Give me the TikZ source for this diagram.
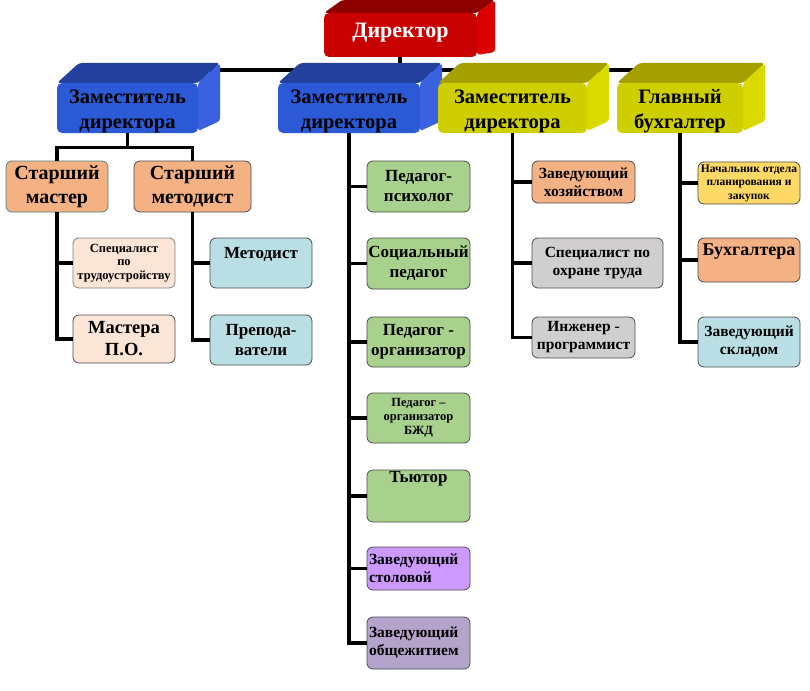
\documentclass[tikz,border=0pt]{standalone}
\usepackage{fontspec}
\setmainfont{Liberation Serif}
\usetikzlibrary{calc,backgrounds}
\definecolor{redF}{HTML}{C80000}
\definecolor{redT}{HTML}{8E0000}
\definecolor{redR}{HTML}{DC0000}
\definecolor{blueF}{HTML}{2C5AD6}
\definecolor{blueT}{HTML}{22409C}
\definecolor{blueR}{HTML}{3A62E0}
\definecolor{yelF}{HTML}{CFCF00}
\definecolor{yelT}{HTML}{A3A000}
\definecolor{yelR}{HTML}{DADA00}
\definecolor{cOrange}{HTML}{F4B183}
\definecolor{cPeach}{HTML}{FBE5D6}
\definecolor{cLBlue}{HTML}{B9DEE3}
\definecolor{cGreen}{HTML}{A9D18E}
\definecolor{cGray}{HTML}{D0CECE}
\definecolor{cPurple}{HTML}{CC99FF}
\definecolor{cLav}{HTML}{B4A4CC}
\definecolor{cYel}{HTML}{FFD966}
% name, x, y, w, h, dx, dy, colour prefix
\newcommand\boxthreed[8]{%
  \fill[#8T, rounded corners=3pt] ({#2-#4/2},{#3-#5/2}) -- ({#2-#4/2+#6},{#3-#5/2+#7}) -- ({#2+#4/2+#6},{#3-#5/2+#7}) -- ({#2+#4/2},{#3-#5/2}) -- cycle;
  \fill[#8R, rounded corners=3pt] ({#2+#4/2},{#3-#5/2}) -- ({#2+#4/2+#6},{#3-#5/2+#7}) -- ({#2+#4/2+#6},{#3+#5/2+#7+8}) -- ({#2+#4/2},{#3+#5/2-2}) -- cycle;
  \node[front, fill=#8F, minimum width=#4pt, minimum height=#5pt] (#1) at (#2,#3) {};
}
\begin{document}
\begin{tikzpicture}[x=1pt,y=-1pt,
  box/.style={draw=black!70, line width=0.8pt, rounded corners=6pt, align=center, inner sep=1pt},
  front/.style={rounded corners=5pt, inner sep=0pt},
  conn/.style={line width=3.4pt, black},
  fA/.style={font=\bfseries\fontsize{20.5}{25}\selectfont, align=center, inner sep=0pt},
  fB/.style={font=\bfseries\fontsize{20}{24}\selectfont},
  fC/.style={font=\bfseries\fontsize{17}{20}\selectfont},
  fD/.style={font=\bfseries\fontsize{15.5}{18}\selectfont},
  fE/.style={font=\bfseries\fontsize{12.5}{14}\selectfont},
  fF/.style={font=\bfseries\fontsize{11.5}{13.5}\selectfont},
]
\useasboundingbox (0,0) rectangle (810,690);

\coordinate (hl) at (0,70);
\draw[conn] (400,57) -- (400,70);
\draw[conn] (128,70) -- (680,70);

% top-level 3D boxes
\boxthreed{dir}{400.5}{35}{153}{44}{18}{-13}{red}
\node[font=\bfseries\fontsize{22}{26}\selectfont, text=white] (dirt) at (400.5,33) {Директор};
\boxthreed{b1}{127.5}{108}{141}{50}{22}{-20}{blue}
\node[fA] (b1t) at (127.5,111) {Заместитель\\директора};
\boxthreed{b2}{349}{108}{142}{50}{22}{-20}{blue}
\node[fA] (b2t) at (349,111) {Заместитель\\директора};
\boxthreed{y1}{512.5}{108}{149}{50}{22}{-20}{yel}
\node[fA] (y1t) at (512.5,111) {Заместитель\\директора};
\boxthreed{y2}{680}{108}{126}{50}{22}{-20}{yel}
\node[fA] (y2t) at (680,111) {Главный\\бухгалтер};

% left branch
\node[box, draw=teal!60!black!70, fill=cOrange, minimum width=102pt, minimum height=51pt, fB] (sm) at (57,186.5) {Старший\\мастер};
\node[box, fill=cOrange, minimum width=117pt, minimum height=51pt, fB] (smet) at (192.5,186.5) {Старший\\методист};
\node[box, draw=black!50, fill=cPeach, minimum width=102pt, minimum height=50pt, font=\bfseries\fontsize{12.5}{13.5}\selectfont] (spec) at (124,263) {Специалист\\по\\трудоустройству};
\node[box, fill=cPeach, minimum width=102pt, minimum height=48pt, font=\bfseries\fontsize{18.5}{22}\selectfont] (mpo) at (124,339) {Мастера\\П.О.};
\node[box, fill=cLBlue, minimum width=102pt, minimum height=50pt, fC] (met) at (261,263) {Методист\\\phantom{М}};
\node[box, fill=cLBlue, minimum width=102pt, minimum height=50pt, fC] (prep) at (261,340) {Препода-\\ватели};

\coordinate (j1) at ($(b1.south)+(0,14)$);
\draw[conn] (b1.south) -- (j1);
\draw[conn] (j1) -| (sm.north);
\draw[conn] (j1) -| (smet.north);
\draw[conn] (sm.south) |- (spec.west);
\draw[conn] (sm.south) |- (mpo.west);
\draw[conn] (smet.south) |- (met.west);
\draw[conn] (smet.south) |- (prep.west);

% middle branch
\node[box, fill=cGreen, minimum width=103pt, minimum height=51pt, fC] (p1) at (418.5,186.5) {Педагог-\\психолог};
\node[box, fill=cGreen, minimum width=103pt, minimum height=51pt, fC] (p2) at (418.5,263.5) {Социальный\\педагог};
\node[box, fill=cGreen, minimum width=103pt, minimum height=50pt, fC] (p3) at (418.5,342) {Педагог -\\организатор};
\node[box, fill=cGreen, minimum width=103pt, minimum height=50pt, fE] (p4) at (418.5,418) {Педагог –\\организатор\\БЖД};
\node[box, fill=cGreen, minimum width=103pt, minimum height=52pt, fC] (p5) at (418.5,496) {Тьютор\\\phantom{Т}\\[-2pt]};
\node[box, fill=cPurple, minimum width=103pt, minimum height=43pt, fD, text width=99pt, align=left] (p6) at (418.5,568.5) {Заведующий\\столовой};
\node[box, fill=cLav, minimum width=103pt, minimum height=52pt, fD, text width=99pt, align=left] (p7) at (418.5,643) {Заведующий\\общежитием};
\foreach \n in {p1,p2,p3,p4,p5,p6,p7}{\draw[conn] (b2.south) |- (\n.west);}

% right-middle branch
\node[box, fill=cOrange, minimum width=103pt, minimum height=42pt, fD] (zx) at (583.5,182) {Заведующий\\хозяйством};
\node[box, fill=cGray, minimum width=131pt, minimum height=50pt, fD] (ot) at (597.5,263) {Специалист по\\охране труда};
\node[box, fill=cGray, minimum width=103pt, minimum height=41pt, fD] (ip) at (583.5,337.5) {Инженер -\\программист};
\foreach \n in {zx,ot,ip}{\draw[conn] (y1.south) |- (\n.west);}

% right branch
\node[box, fill=cYel, minimum width=102pt, minimum height=42pt, fF] (nach) at (749,183) {Начальник отдела\\планирования и\\закупок};
\node[box, fill=cOrange, minimum width=102pt, minimum height=44pt, font=\bfseries\fontsize{18}{20}\selectfont] (buh) at (749,260) {Бухгалтера\\\phantom{Б}};
\node[box, fill=cLBlue, minimum width=102pt, minimum height=50pt, fD] (skl) at (749,342) {Заведующий\\складом};
\foreach \n in {nach,buh,skl}{\draw[conn] (y2.south) |- (\n.west);}
\end{tikzpicture}
\end{document}
